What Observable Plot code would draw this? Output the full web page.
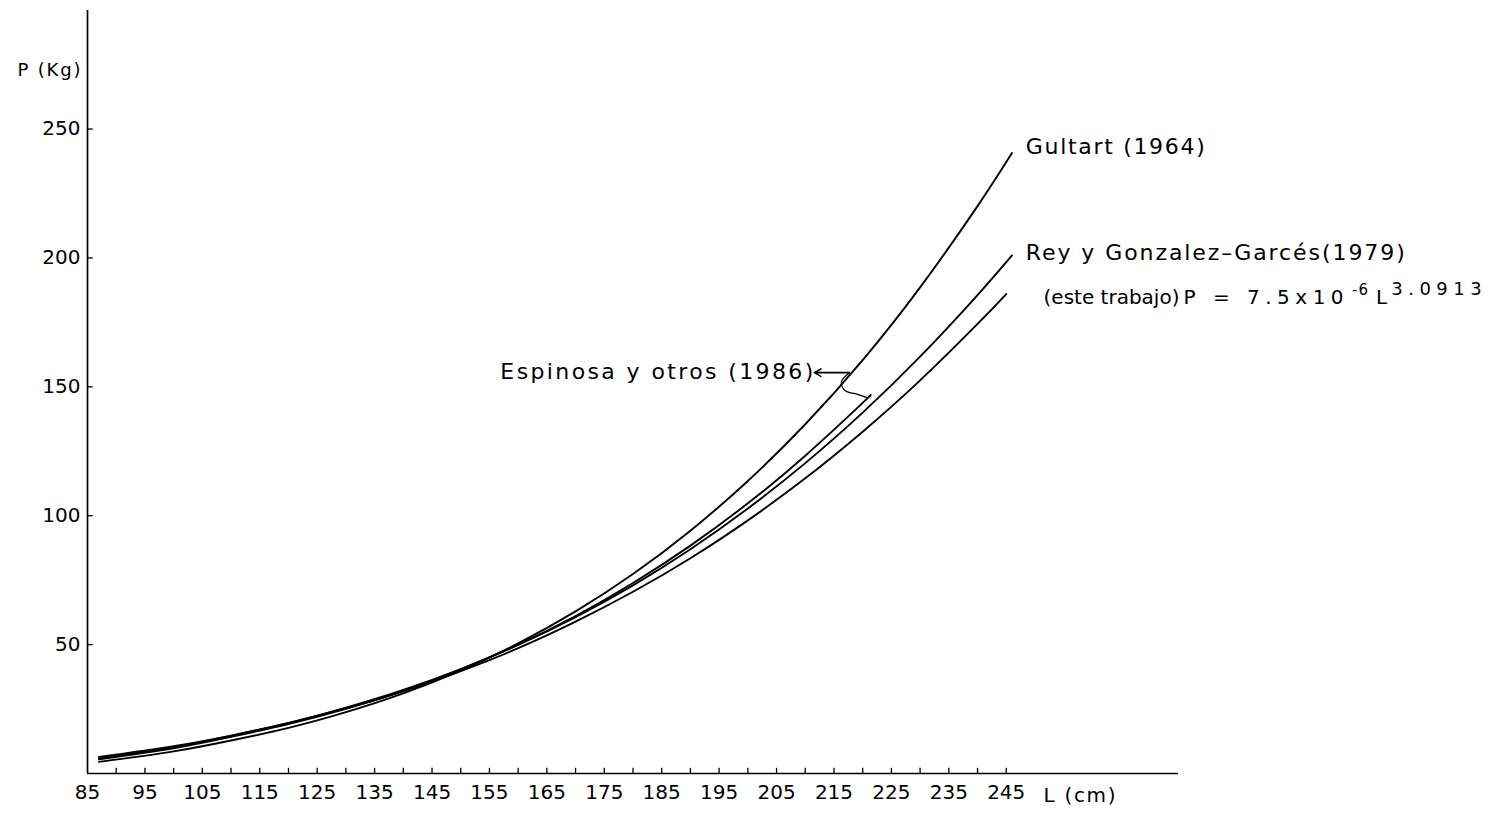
<!DOCTYPE html>
<html><head><meta charset="utf-8">
<script src="https://cdn.jsdelivr.net/npm/d3@7"></script>
<script src="https://cdn.jsdelivr.net/npm/@observablehq/plot@0.6"></script>
<style>
html,body{margin:0;padding:0;background:#fff;}
svg{display:block;}
</style>
</head><body><div id="chart"></div>
<script>
// ---- data: L (cm) -> P (kg) ----
const gultartL   = [87, 100, 110, 120, 130, 140, 150, 160, 170, 180, 190, 200, 210, 220, 230, 240, 246];
const gultartP   = [4.5, 8.6, 12.8, 17.7, 23.8, 31.1, 39.9, 50.5, 62.9, 77.4, 94.2, 113.5, 135.5, 160.4, 188.6, 220.1, 240.7];
const reyL       = [87, 100, 110, 120, 130, 140, 150, 160, 170, 180, 190, 200, 210, 220, 230, 240, 246];
const reyP       = [6.0, 10.2, 14.6, 19.5, 25.5, 32.4, 40.5, 49.9, 60.7, 73.0, 87.0, 102.8, 120.4, 140.0, 161.7, 185.6, 201.0];
const esteL      = [87, 100, 110, 120, 130, 140, 150, 160, 170, 180, 190, 200, 210, 220, 230, 240, 245];
const esteP      = [6.4, 10.6, 14.7, 19.6, 25.3, 31.9, 39.7, 48.6, 58.9, 70.5, 83.5, 98.2, 114.5, 132.6, 152.5, 174.4, 186.0];
const espinosaL  = [87, 100, 110, 120, 130, 140, 150, 160, 170, 180, 190, 200, 210, 220, 221];
const espinosaP  = [5.5, 9.8, 14.2, 19.2, 25.1, 32.1, 40.4, 50.0, 61.1, 73.9, 88.4, 104.8, 123.3, 143.8, 146.0];

const seriesNames = ["Gultart (1964)", "Rey y Gonzalez–Garcés(1979)", "este trabajo", "Espinosa y otros (1986)"];

// axis ticks
const xTickLabels = [85, 95, 105, 115, 125, 135, 145, 155, 165, 175, 185, 195, 205, 215, 225, 235, 245];
const xTickMarks  = [90, 95, 100, 105, 110, 115, 120, 125, 130, 135, 140, 145, 150, 155, 160, 165, 170, 175, 180, 185, 190, 195, 200, 205, 210, 215, 220, 225, 230, 235, 240, 245];
const yTickLabels = [50, 100, 150, 200, 250];

// annotation anchors (data units)
const labelText = ["Gultart (1964)", "Rey y Gonzalez–Garcés(1979)", "(este trabajo) P = 7.5x10-6 L3.0913", "Espinosa y otros (1986)"];
const labelL    = [248.4, 248.4, 251.5, 156.9];
const labelP    = [243.2, 202.1, 184.8, 155.9];
const espArrowL = [217.7, 211.6];
const espArrowP = [155.5, 155.5];
const squiggleL = [217.7, 216.3, 216.9, 219.0, 220.8];
const squiggleP = [155.5, 152.0, 148.6, 147.2, 145.8];

// ---- build tables ----
const curves = [
  [seriesNames[0], gultartL, gultartP],
  [seriesNames[1], reyL, reyP],
  [seriesNames[2], esteL, esteP],
  [seriesNames[3], espinosaL, espinosaP]
].flatMap(([name, Ls, Ps]) => Ls.map((L, i) => ({series: name, L, P: Ps[i]})));
const labels = labelText.map((t, i) => ({text: t, L: labelL[i], P: labelP[i]}));
const squiggle = squiggleL.map((L, i) => ({L, P: squiggleP[i]}));

const font = "DejaVu Sans";
const plot = Plot.plot({
  width: 1512, height: 820,
  marginLeft: 87, marginRight: 334, marginTop: 10, marginBottom: 47,
  x: {domain: [85, 275]},
  y: {domain: [0, 296]},
  style: {fontFamily: font, background: "#fff", color: "#000", fontSize: "19px"},
  marks: [
    Plot.ruleX([85], {y1: 0, y2: 296, stroke: "#000", strokeWidth: 1.7}),
    Plot.ruleY([0], {x1: 85, x2: 275, stroke: "#000", strokeWidth: 1.7}),
    Plot.ruleX(xTickMarks, {y1: 0, y2: 2, stroke: "#000", strokeWidth: 1.3}),
    Plot.ruleY(yTickLabels, {x1: 85, x2: 86, stroke: "#000", strokeWidth: 1.3}),
    Plot.axisX(xTickLabels, {tickSize: 0, tickPadding: 11, fontSize: 20, tickFormat: d => String(d), label: null}),
    Plot.axisY(yTickLabels, {tickSize: 0, tickPadding: 7, fontSize: 20, tickFormat: d => String(d), label: null}),
    Plot.text(["P (Kg)"], {x: 85, y: 272.7, dx: -7, text: d => d, textAnchor: "end", fontSize: 18}),
    Plot.text(["L (cm)"], {x: 251.5, y: 0, dy: 22, text: d => d, textAnchor: "start", fontSize: 20}),
    Plot.line(curves, {x: "L", y: "P", z: "series", curve: "natural", stroke: "#000", strokeWidth: 1.9}),
    Plot.text(labels, {x: "L", y: "P", text: "text", textAnchor: "start", fontSize: 22}),
    Plot.arrow([0], {x1: espArrowL[0], y1: espArrowP[0], x2: espArrowL[1], y2: espArrowP[1], stroke: "#000", strokeWidth: 1.6, headLength: 7}),
    Plot.line(squiggle, {x: "L", y: "P", curve: "catmull-rom", stroke: "#000", strokeWidth: 1.2})
  ]
});
document.getElementById("chart").appendChild(plot);

// ---- text widths to match the hand lettering ----
const widths = new Map([
  ["Gultart (1964)", 179],
  ["Rey y Gonzalez–Garcés(1979)", 379],
  ["Espinosa y otros (1986)", 313],
  ["P (Kg)", 63],
  ["L (cm)", 72]
]);
d3.select(plot).selectAll("text").each(function() {
  const t = this.textContent;
  if (widths.has(t)) {
    this.setAttribute("textLength", widths.get(t));
    this.setAttribute("lengthAdjust", "spacing");
  }
  if (t === labelText[2]) {
    const el = d3.select(this);
    el.text(null);
    const parts = [
      {s: "(este trabajo)", dx: 0, dy: 0, fs: 20, ls: 0},
      {s: "P = 7.5x10", dx: 4, dy: 0, fs: 20, ls: 5.5},
      {s: "-6", dx: 3, dy: -9, fs: 15, ls: 1},
      {s: "L", dx: 7, dy: 9, fs: 20, ls: 0},
      {s: "3.0913", dx: 4, dy: -9, fs: 18, ls: 5.5}
    ];
    parts.forEach(p => {
      el.append("tspan").attr("dx", p.dx).attr("dy", p.dy)
        .style("font-size", p.fs + "px").style("letter-spacing", p.ls + "px").text(p.s);
    });
  }
});
</script>
</body></html>
